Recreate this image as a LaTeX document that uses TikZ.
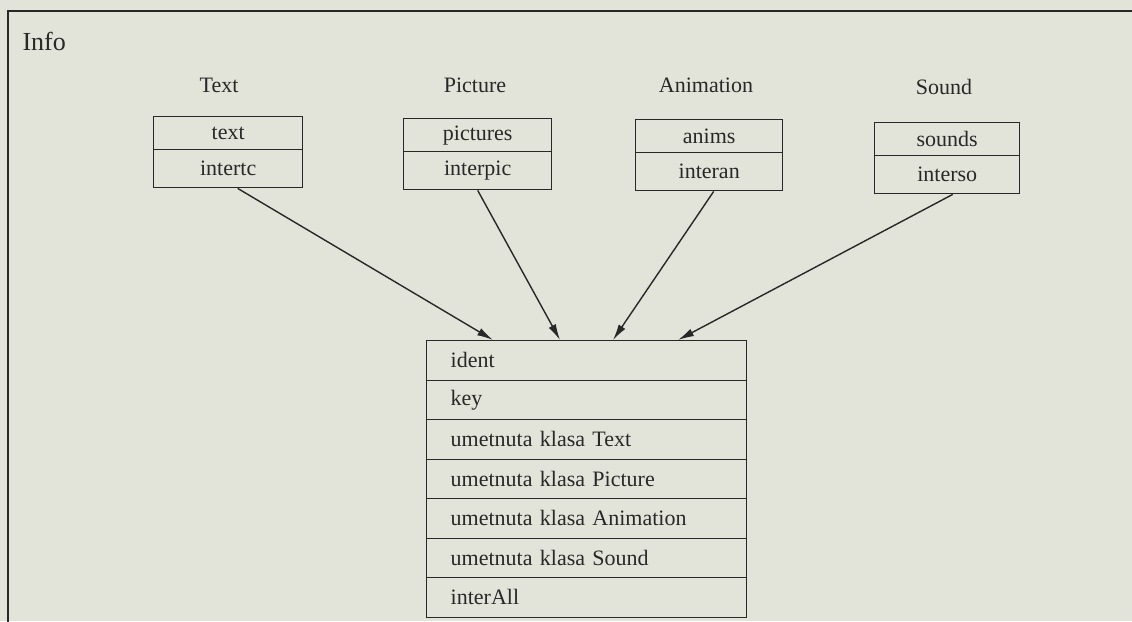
\documentclass[tikz,border=0pt]{standalone}
\usepackage{fontspec}
\setmainfont{Liberation Serif}
\newfontfamily\rowfont{Liberation Serif}[WordSpace=2.2]
\usetikzlibrary{arrows.meta}
\definecolor{paper}{RGB}{226,228,218}
\definecolor{ink}{RGB}{40,40,40}
\begin{document}
\begin{tikzpicture}[x=1pt,y=-1pt,
  every node/.style={text=ink, font=\fontsize{22}{26}\selectfont},
  frameline/.style={draw=ink, line width=1.6pt},
  cell/.style={draw=ink, line width=1.4pt, inner sep=0pt, anchor=north west},
  toprow/.style={cell, minimum height=33pt},
  botrow/.style={cell, minimum height=38pt},
  mainrow/.style={cell, minimum height=39.5pt, text width=272pt, inner xsep=24pt,
    align=left, font=\rowfont\fontsize{22}{26}\selectfont},
  link/.style={draw=ink, line width=1.4pt, -{Latex[length=16pt,width=8pt]}}]
  \fill[paper] (0,0) rectangle (1132,621);
  \useasboundingbox (0,0) rectangle (1132,621);
  \clip (0,0) rectangle (1132,621);

  % outer frame of the Info class
  \draw[frameline] (1140,11) -- (8,11) -- (8,630);
  \node[anchor=base west, font=\fontsize{26}{30}\selectfont] (info) at (19,50) {Info};

  % embedded classes
  \node (lText) at (219,85) {Text};
  \node[toprow, minimum width=149pt] (t1) at (153,116) {text};
  \node[botrow, minimum width=149pt] (t2) at (153,149) {intertc};

  \node (lPic) at (475,85) {Picture};
  \node[toprow, minimum width=148pt] (p1) at (403,118) {pictures};
  \node[botrow, minimum width=148pt] (p2) at (403,151) {interpic};

  \node (lAnim) at (706,85) {Animation};
  \node[toprow, minimum width=147pt] (a1) at (635,119) {anims};
  \node[botrow, minimum width=147pt] (a2) at (635,152) {interan};

  \node (lSound) at (944,87) {Sound};
  \node[toprow, minimum width=145pt] (s1) at (874,122) {sounds};
  \node[botrow, minimum width=145pt] (s2) at (874,155) {interso};

  % the Info record
  \node[mainrow] (m1) at (426,340)   {ident};
  \node[mainrow] (m2) at (426,379.5) {key};
  \node[mainrow] (m3) at (426,419)   {umetnuta klasa Text};
  \node[mainrow] (m4) at (426,458.5) {umetnuta klasa Picture};
  \node[mainrow] (m5) at (426,498)   {umetnuta klasa Animation};
  \node[mainrow] (m6) at (426,537.5) {umetnuta klasa Sound};
  \node[mainrow] (m7) at (426,577)   {interAll};

  % links into the record
  \draw[link] ([xshift=9.5pt]t2.south) -- ([xshift=67pt]m1.north west);
  \draw[link] (p2.south) -- ([xshift=134pt]m1.north west);
  \draw[link] ([xshift=4.5pt]a2.south) -- ([xshift=187pt]m1.north west);
  \draw[link] ([xshift=5.5pt]s2.south) -- ([xshift=252pt]m1.north west);
\end{tikzpicture}
\end{document}
